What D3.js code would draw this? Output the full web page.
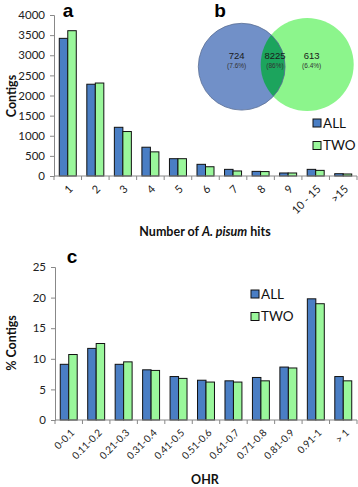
<!DOCTYPE html>
<html>
<head>
<meta charset="utf-8">
<script src="https://cdn.jsdelivr.net/npm/d3@7/dist/d3.min.js"></script>
<style>
  html, body { margin: 0; padding: 0; background: #fff; }
  svg { display: block; font-family: Lato, "Open Sans", sans-serif; }
</style>
</head>
<body>
<div id="chart"></div>
<script>
// ---- data
const series = ['ALL', 'TWO'];

const hitCategories = ['1', '2', '3', '4', '5', '6', '7', '8', '9', '10 - 15', '>15'];
const hitsAll = [3420, 2280, 1210, 715, 430, 290, 165, 115, 75, 165, 57];
const hitsTwo = [3610, 2310, 1105, 600, 430, 230, 125, 110, 75, 140, 50];
const hitTicks = [0, 500, 1000, 1500, 2000, 2500, 3000, 3500, 4000];

const ohrCategories = ['0-0.1', '0.11-0.2', '0.21-0.3', '0.31-0.4', '0.41-0.5', '0.51-0.6',
                       '0.61-0.7', '0.71-0.8', '0.81-0.9', '0.91-1', '> 1'];
const ohrAll = [9.1, 11.7, 9.1, 8.2, 7.1, 6.5, 6.4, 6.95, 8.65, 19.8, 7.1];
const ohrTwo = [10.7, 12.5, 9.5, 8.1, 6.8, 6.2, 6.2, 6.4, 8.5, 19.0, 6.4];
const ohrTicks = [0, 5, 10, 15, 20, 25];

const vennCounts = ['724', '8225', '613'];
const vennPct = ['(7.6%)', '(86%)', '(6.4%)'];

const colors = { ALL: '#4a7ec4', TWO: '#9af79b' };

const W = 358, H = 487;
const svg = d3.select('#chart').append('svg').attr('width', W).attr('height', H);

// ---- grouped bar panel (used for a and c)
function barPanel(opt) {
  const g = svg.append('g');
  const x0 = d3.scaleBand().domain(opt.categories).range([opt.left, opt.right]).padding(0);
  const x1 = d3.scaleBand().domain(series).range([0, x0.bandwidth()]).paddingInner(0).paddingOuter(0.62);
  const y = d3.scaleLinear().domain(opt.domain).range([opt.bottom, opt.top]);

  const rows = opt.categories.map((c, i) => ({ c, ALL: opt.all[i], TWO: opt.two[i] }));

  g.selectAll('g.cat').data(rows).join('g')
    .attr('class', 'cat')
    .attr('transform', d => `translate(${x0(d.c)},0)`)
    .selectAll('rect').data(d => series.map(s => ({ s, v: d[s] }))).join('rect')
    .attr('x', d => x1(d.s))
    .attr('width', x1.bandwidth())
    .attr('y', d => y(d.v))
    .attr('height', d => y(0) - y(d.v))
    .attr('fill', d => colors[d.s])
    .attr('stroke', '#111')
    .attr('stroke-width', 1);

  // y axis
  g.append('g')
    .attr('transform', `translate(${opt.left},0)`)
    .call(d3.axisLeft(y).tickValues(opt.ticks).tickFormat(d3.format('d')).tickSize(4).tickPadding(5))
    .call(a => a.select('.domain').attr('stroke', '#888'))
    .call(a => a.selectAll('.tick line').attr('stroke', '#888'))
    .call(a => a.selectAll('.tick text').attr('fill', '#222').style('font-size', '11.5px')
      .style('font-family', 'Lato, sans-serif'));

  // x axis: line + ticks between categories
  g.append('line')
    .attr('x1', opt.left).attr('x2', opt.right)
    .attr('y1', y(0)).attr('y2', y(0))
    .attr('stroke', '#888');
  const bounds = opt.categories.map(c => x0(c)).concat([opt.right]);
  g.selectAll('line.xt').data(bounds).join('line')
    .attr('class', 'xt')
    .attr('x1', d => d).attr('x2', d => d)
    .attr('y1', y(0)).attr('y2', y(0) + 4)
    .attr('stroke', '#888');

  g.selectAll('text.xl').data(opt.categories).join('text')
    .attr('class', 'xl')
    .attr('transform', d => `translate(${x0(d) + x0.bandwidth() / 2 + opt.lx},${y(0) + opt.ly}) rotate(-45)`)
    .attr('text-anchor', 'end')
    .attr('dy', '0.35em')
    .attr('fill', '#222')
    .style('font-size', opt.lfs)
    .text(d => d);

  // y title
  g.append('text')
    .attr('transform', `translate(${opt.ytx},${opt.yty}) rotate(-90)`)
    .attr('text-anchor', 'middle')
    .attr('dy', '0.35em')
    .attr('font-weight', 700)
    .attr('fill', '#111')
    .style('font-size', '12.5px')
    .text(opt.ytitle);

  // legend
  const lg = g.append('g').attr('transform', `translate(${opt.legX},${opt.legY})`);
  series.forEach((s, i) => {
    lg.append('rect').attr('x', 0).attr('y', i * 22.5 - 4).attr('width', 8).attr('height', 8)
      .attr('fill', colors[s]).attr('stroke', '#111').attr('stroke-width', 1);
    lg.append('text').attr('x', 10).attr('y', i * 22.5).attr('dy', '0.36em')
      .attr('fill', '#111').style('font-size', '13.5px').text(s);
  });

  return { x0, y };
}

barPanel({
  categories: hitCategories, all: hitsAll, two: hitsTwo, ticks: hitTicks,
  domain: [0, 4000], left: 54, right: 357, top: 15, bottom: 176,
  lx: 3, ly: 11, lfs: '11px',
  ytitle: 'Contigs', ytx: 12, yty: 96,
  legX: 313, legY: 123
});

barPanel({
  categories: ohrCategories, all: ohrAll, two: ohrTwo, ticks: ohrTicks,
  domain: [0, 25], left: 55, right: 357, top: 267, bottom: 420,
  lx: 4, ly: 11, lfs: '10px',
  ytitle: '% Contigs', ytx: 12, yty: 343,
  legX: 251, legY: 294
});

// x titles
const t1 = svg.append('text').attr('x', 205).attr('y', 236).attr('text-anchor', 'middle')
  .attr('font-weight', 700).attr('fill', '#111').style('font-size', '12.5px');
t1.append('tspan').text('Number of ');
t1.append('tspan').attr('font-style', 'italic').text('A. pisum');
t1.append('tspan').text(' hits');

svg.append('text').attr('x', 205).attr('y', 484).attr('text-anchor', 'middle')
  .attr('font-weight', 700).attr('fill', '#111').style('font-size', '12.5px').text('OHR');

// panel letters
[['a', 68, 17], ['b', 220, 17], ['c', 72, 263]].forEach(([l, x, y]) => {
  svg.append('text').attr('x', x).attr('y', y).attr('text-anchor', 'middle')
    .attr('font-weight', 700).attr('fill', '#000')
    .style('font-family', '"Liberation Sans", Arial, sans-serif').style('font-size', '19px').text(l);
});

// ---- venn (b)
const blue = { cx: 241.7, cy: 66.7, r: 43.4 };
const green = { cx: 307.2, cy: 64.5, r: 46.5 };
const defs = svg.append('defs');
defs.append('clipPath').attr('id', 'clipBlue')
  .append('circle').attr('cx', blue.cx).attr('cy', blue.cy).attr('r', blue.r);

const vg = svg.append('g');
vg.append('circle').attr('cx', green.cx).attr('cy', green.cy).attr('r', green.r).attr('fill', '#8cf58c');
vg.append('circle').attr('cx', blue.cx).attr('cy', blue.cy).attr('r', blue.r).attr('fill', '#7190c8');
vg.append('circle').attr('cx', green.cx).attr('cy', green.cy).attr('r', green.r)
  .attr('clip-path', 'url(#clipBlue)').attr('fill', '#1ca45d');
vg.append('circle').attr('cx', blue.cx).attr('cy', blue.cy).attr('r', blue.r)
  .attr('fill', 'none').attr('stroke', '#5a6f94').attr('stroke-width', 0.8);

const vx = [236.7, 275, 311.7];
vennCounts.forEach((c, i) => {
  vg.append('text').attr('x', vx[i]).attr('y', 58.5).attr('text-anchor', 'middle')
    .attr('fill', '#1a1a1a').style('font-family', '"Liberation Sans", Arial, sans-serif')
    .style('font-size', '9.5px').text(c);
  vg.append('text').attr('x', vx[i]).attr('y', 67.5).attr('text-anchor', 'middle')
    .attr('fill', '#333').style('font-family', '"Liberation Sans", Arial, sans-serif')
    .style('font-size', '6.5px').text(vennPct[i]);
});
</script>
</body>
</html>
